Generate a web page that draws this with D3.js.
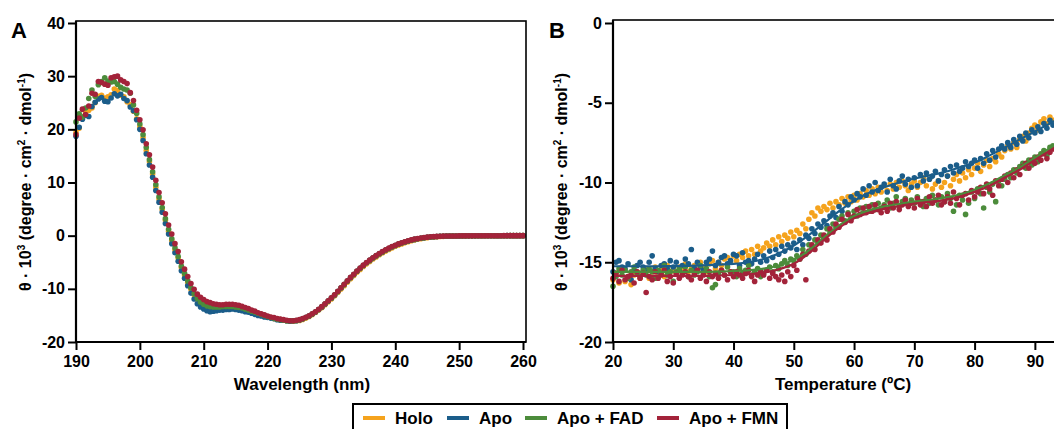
<!DOCTYPE html>
<html>
<head>
<meta charset="utf-8">
<script src="https://cdn.jsdelivr.net/npm/d3@7"></script>
<style>
  body { margin: 0; background: #fff; }
  svg { display: block; font-family: "Liberation Sans", Arial, sans-serif; font-weight: bold; }
</style>
</head>
<body>
<div id="chart"></div>
<script>
// Series
const seriesNames = ["Holo", "Apo", "Apo + FAD", "Apo + FMN"];
const seriesColors = ["#f5a31d", "#1b5d8a", "#4c8c3b", "#a3233a"];

// Panel A: CD spectra, sampled every 0.5 nm from 190 to 260 nm
const wavelengthStart = 190, wavelengthStep = 0.5;
const holoCD = [
  19.4, 20.2, 22.3, 23.1, 23.6, 24.0, 25.0, 26.2, 26.4, 25.9,
  26.1, 26.5, 27.6, 27.3, 26.4, 26.1, 25.2, 24.6, 23.4, 22.0,
  20.5, 18.4, 16.0, 13.9, 11.6, 9.1, 6.9, 4.9, 2.9, 0.8,
  -0.9, -2.7, -4.2, -6.0, -7.4, -8.8, -10.1, -11.1, -12.0, -12.6,
  -13.0, -13.3, -13.5, -13.6, -13.6, -13.5, -13.5, -13.4, -13.4, -13.4,
  -13.5, -13.6, -13.7, -13.9, -14.1, -14.3, -14.5, -14.7, -14.9, -15.1,
  -15.3, -15.4, -15.6, -15.7, -15.8, -15.9, -16.0, -16.1, -16.1, -16.0,
  -15.95, -15.75, -15.5, -15.2, -14.85, -14.45, -14.0, -13.55, -13.0, -12.45,
  -11.9, -11.3, -10.7, -10.05, -9.4, -8.75, -8.1, -7.5, -6.9, -6.35,
  -5.8, -5.3, -4.85, -4.4, -4.0, -3.6, -3.25, -2.9, -2.6, -2.3,
  -2.0, -1.75, -1.55, -1.35, -1.15, -0.95, -0.8, -0.68, -0.56, -0.46,
  -0.38, -0.3, -0.25, -0.2, -0.16, -0.13, -0.11, -0.09, -0.08, -0.07,
  -0.06, -0.05, -0.05, -0.04, -0.04, -0.03, -0.03, -0.03, -0.02, -0.02,
  -0.02, -0.02, -0.01, -0.01, -0.01, -0.01, 0, 0, 0, 0,
  0
];
const apoCD = [
  18.7, 20.4, 21.9, 22.6, 22.4, 24.3, 25.1, 25.7, 26.0, 25.3,
  25.2, 25.9, 26.7, 26.3, 26.6, 25.8, 25.4, 24.2, 23.5, 21.8,
  20.0, 17.9, 15.4, 13.3, 11.0, 8.5, 6.3, 4.4, 2.3, 0.3,
  -1.5, -3.2, -4.8, -6.6, -8.0, -9.4, -10.8, -11.9, -12.8, -13.4,
  -13.8, -14.1, -14.3, -14.2, -14.1, -14.0, -14.0, -13.9, -13.9, -13.8,
  -13.9, -14.0, -14.1, -14.3, -14.4, -14.6, -14.8, -15.0, -15.1, -15.3,
  -15.4, -15.5, -15.6, -15.8, -15.9, -15.9, -16.0, -16.1, -16.0, -16.0,
  -15.85, -15.65, -15.4, -15.1, -14.75, -14.35, -13.9, -13.4, -12.85, -12.3,
  -11.75, -11.15, -10.5, -9.85, -9.2, -8.55, -7.9, -7.3, -6.7, -6.15,
  -5.6, -5.1, -4.65, -4.2, -3.8, -3.4, -3.05, -2.7, -2.4, -2.1,
  -1.85, -1.6, -1.4, -1.2, -1.0, -0.85, -0.7, -0.58, -0.48, -0.38,
  -0.3, -0.24, -0.19, -0.15, -0.12, -0.1, -0.08, -0.07, -0.06, -0.05,
  -0.05, -0.04, -0.04, -0.03, -0.03, -0.03, -0.02, -0.02, -0.02, -0.02,
  -0.01, -0.01, -0.01, -0.01, -0.01, 0, 0, 0, 0, 0,
  0
];
const fadCD = [
  21.4, 22.9, 22.3, 24.0, 25.8, 27.4, 26.2, 28.4, 29.0, 29.7,
  29.1, 28.9, 29.0, 28.5, 27.9, 27.6, 27.4, 26.8, 24.6, 23.0,
  21.0, 19.0, 16.6, 14.3, 12.0, 9.6, 7.3, 5.3, 3.2, 1.2,
  -0.6, -2.3, -3.9, -5.7, -7.1, -8.5, -9.8, -10.9, -11.8, -12.5,
  -12.9, -13.2, -13.3, -13.4, -13.4, -13.4, -13.3, -13.3, -13.3, -13.3,
  -13.4, -13.5, -13.6, -13.8, -14.0, -14.2, -14.4, -14.6, -14.8, -15.0,
  -15.2, -15.4, -15.5, -15.7, -15.8, -15.9, -16.0, -16.0, -16.0, -15.95,
  -15.85, -15.65, -15.4, -15.1, -14.75, -14.35, -13.9, -13.4, -12.85, -12.3,
  -11.75, -11.15, -10.5, -9.85, -9.2, -8.55, -7.9, -7.3, -6.7, -6.15,
  -5.6, -5.1, -4.65, -4.2, -3.8, -3.4, -3.05, -2.7, -2.4, -2.1,
  -1.85, -1.6, -1.4, -1.2, -1.0, -0.85, -0.7, -0.58, -0.48, -0.38,
  -0.3, -0.24, -0.19, -0.15, -0.12, -0.1, -0.08, -0.07, -0.06, -0.05,
  -0.05, -0.04, -0.04, -0.03, -0.03, -0.03, -0.02, -0.02, -0.02, -0.02,
  -0.01, -0.01, -0.01, -0.01, -0.01, 0, 0, 0, 0, 0,
  0
];
const fmnCD = [
  19.0, 22.1, 23.8, 22.8, 24.4, 26.8, 26.6, 29.0, 28.8, 28.5,
  28.3, 29.7, 29.9, 30.0, 29.3, 29.0, 28.6, 26.9, 25.4, 23.6,
  21.8, 19.9, 17.3, 15.2, 12.9, 10.4, 8.1, 6.2, 4.1, 2.0,
  0.3, -1.5, -3.0, -4.9, -6.3, -7.7, -9.0, -10.1, -11.0, -11.6,
  -12.0, -12.4, -12.6, -12.8, -12.9, -13.0, -13.0, -12.9, -12.9, -12.9,
  -13.0, -13.1, -13.3, -13.5, -13.7, -14.0, -14.2, -14.5, -14.7, -14.9,
  -15.1, -15.3, -15.4, -15.6, -15.7, -15.8, -15.9, -16.0, -16.0, -15.9,
  -15.8, -15.6, -15.35, -15.05, -14.7, -14.3, -13.85, -13.35, -12.8, -12.25,
  -11.7, -11.1, -10.45, -9.8, -9.15, -8.5, -7.85, -7.25, -6.65, -6.1,
  -5.55, -5.05, -4.6, -4.15, -3.75, -3.35, -3.0, -2.65, -2.35, -2.05,
  -1.8, -1.55, -1.35, -1.15, -0.95, -0.8, -0.65, -0.55, -0.45, -0.35,
  -0.28, -0.22, -0.18, -0.14, -0.1, -0.08, -0.07, -0.06, -0.05, -0.05,
  -0.04, -0.04, -0.03, -0.03, -0.03, -0.02, -0.02, -0.02, -0.02, -0.01,
  -0.01, -0.01, -0.01, -0.01, 0, 0, 0, 0, 0, 0,
  0
];

// Panel B: thermal melts, sampled every 0.5 ºC from 20 ºC
const tempStart = 20, tempStep = 0.5;
const holoMelt = [
  -16.1, -15.7, -16.3, -15.5, -16.2, -15.9, -16.4, -15.8, -15.6, -16.0,
  -15.7, -15.4, -16.0, -15.6, -15.3, -15.8, -15.5, -15.9, -15.2, -15.6,
  -15.4, -15.7, -15.3, -15.5, -15.1, -15.6, -15.4, -15.2, -15.5, -15.0,
  -15.3, -15.6, -15.1, -14.9, -15.4, -15.0, -15.2, -14.8, -14.7, -15.0,
  -14.6, -14.9, -14.5, -14.7, -14.3, -14.6, -14.2, -14.5, -14.0, -14.3,
  -14.1, -13.8, -14.0, -13.6, -13.9, -13.4, -13.7, -13.3, -13.5, -13.1,
  -13.4, -13.0, -13.2, -12.6, -12.9, -12.3, -11.9, -12.1, -11.6, -11.8,
  -11.5, -11.7, -11.3, -11.6, -11.2, -11.4, -11.0, -11.3, -10.9, -11.2,
  -10.8, -11.1, -10.7, -10.9, -10.5, -10.8, -10.4, -10.7, -10.3, -10.6,
  -10.2, -10.5, -10.1, -10.4, -10.0, -10.3, -9.9, -10.2, -10.5, -10.1,
  -9.9, -10.3, -10.0, -9.7, -10.2, -9.8, -10.4, -10.1, -9.9, -10.3,
  -10.0, -9.6, -10.2, -9.8, -9.5, -9.9, -9.4, -9.7, -9.2, -9.5,
  -9.1, -8.8, -9.3, -8.9, -8.6, -9.0, -8.5, -8.7, -8.2, -8.4,
  -8.0, -7.7, -7.9, -7.5, -7.8, -7.3, -7.1, -7.4, -6.9, -6.6,
  -6.4, -6.7, -6.2, -6.0, -6.3, -5.9, -6.1
];
const apoMelt = [
  -15.6, -15.0, -14.9, -15.3, -15.4, -15.1, -16.1, -15.5, -15.2, -15.0,
  -15.3, -15.5, -15.0, -14.6, -15.4, -15.6, -15.2, -15.1, -15.4, -14.9,
  -15.3, -15.0, -15.5, -15.2, -14.8, -15.1, -14.2, -15.4, -15.0, -15.3,
  -15.5, -15.0, -14.8, -14.3, -15.2, -15.0, -14.7, -14.6, -15.1, -14.9,
  -14.5, -14.6, -15.2, -14.4, -15.0, -14.9, -15.1, -14.8, -14.5, -15.0,
  -14.6, -14.9, -14.3, -14.7, -14.2, -14.5, -14.0, -14.3, -13.9, -14.1,
  -13.8, -14.2, -13.6, -13.9, -13.3, -13.5, -12.9, -13.2, -12.6, -12.8,
  -12.4, -12.7, -12.1, -11.9, -12.2, -11.5, -11.8, -11.2, -11.4, -10.9,
  -11.1, -10.7, -10.9, -10.4, -10.8, -10.2, -10.6, -10.0, -10.5, -10.3,
  -10.1, -10.6, -9.8, -10.2, -10.4, -9.9, -9.6, -10.1, -9.8, -10.3,
  -9.7, -10.2, -9.5, -9.9, -9.4, -9.8, -9.6, -9.3, -9.9, -9.5,
  -9.2, -9.6, -9.0, -9.4, -8.9, -9.3, -9.1, -8.7, -9.0, -8.8,
  -8.6, -9.1, -8.5, -8.8, -8.2, -8.6, -8.0, -8.4, -7.9, -7.7,
  -7.9, -7.5, -7.8, -7.3, -7.6, -7.1, -7.4, -6.9, -7.2, -6.7,
  -6.9, -6.5, -6.8, -6.3, -6.6, -6.1, -6.4
];
const fadMelt = [
  -16.5, -15.9, -15.4, -15.8, -15.5, -16.0, -15.6, -15.3, -15.7, -15.9,
  -15.5, -15.8, -15.4, -15.6, -16.0, -15.5, -15.7, -15.2, -15.8, -15.6,
  -16.2, -15.6, -15.4, -15.7, -15.3, -15.9, -15.5, -15.8, -15.6, -15.2,
  -15.7, -15.4, -15.9, -16.6, -16.4, -15.7, -15.5, -15.8, -15.3, -15.6,
  -15.6, -15.9, -15.4, -15.7, -15.5, -15.2, -15.8, -15.6, -15.4, -15.9,
  -15.7, -15.5, -15.3, -15.6, -15.2, -15.4, -15.1, -14.9, -15.2, -14.8,
  -14.9, -14.6, -14.8, -14.2, -14.5, -13.9, -14.1, -13.6, -13.8, -13.3,
  -13.5, -12.9, -13.1, -12.6, -12.8, -12.3, -12.1, -12.4, -11.9, -12.2,
  -11.8, -12.1, -11.6, -11.9, -11.5, -11.8, -11.4, -11.7, -11.3, -11.6,
  -11.4, -11.1, -11.6, -11.3, -10.9, -11.5, -11.2, -11.0, -11.4, -11.1,
  -11.3, -10.9, -11.2, -11.5, -11.0, -11.3, -10.8, -11.1, -11.4, -10.9,
  -11.2, -10.7, -11.0, -11.8, -11.4, -10.8, -11.1, -12.0, -11.3, -10.6,
  -11.0, -10.4, -10.7, -11.6, -10.3, -10.6, -10.1, -11.2, -9.9, -10.2,
  -9.8, -9.5, -9.7, -9.2, -9.4, -9.0, -8.8, -9.1, -8.6, -8.9,
  -8.4, -8.7, -8.2, -8.0, -8.3, -7.8, -7.7
];
const fmnMelt = [
  -16.0, -15.7, -16.2, -15.5, -16.1, -15.9, -15.8, -16.3, -15.6, -16.0,
  -15.7, -16.9, -15.9, -16.1, -15.6, -16.0, -15.8, -15.5, -16.2, -15.9,
  -16.3, -15.7, -16.0, -15.8, -15.6, -15.9, -16.1, -15.7, -15.5, -16.0,
  -15.8, -16.2, -15.6, -15.9, -15.7, -16.0, -15.5, -15.8, -16.1, -15.6,
  -15.9, -15.6, -15.8, -16.0, -15.7, -15.5, -15.9, -16.2, -15.8, -15.6,
  -15.8, -15.5, -16.0, -15.7, -15.9, -16.1, -15.8, -16.2, -15.6, -15.9,
  -15.2, -15.5, -14.8, -14.5, -16.1, -14.3, -13.9, -14.2, -13.6, -13.8,
  -13.3, -13.6, -12.9, -13.1, -12.6, -12.8, -12.3, -12.5, -12.0, -12.4,
  -12.1, -11.7, -12.0, -11.6, -11.9, -11.5, -11.8, -11.4, -11.7, -11.9,
  -11.5, -11.8, -11.3, -11.6, -11.2, -11.7, -11.4, -11.1, -11.5, -11.3,
  -11.6, -11.0, -11.4, -11.2, -11.5, -10.9, -11.3, -11.1, -10.8, -11.4,
  -11.2, -10.9, -11.3, -10.6, -11.0, -11.4, -10.8, -10.7, -11.1, -10.5,
  -10.9, -10.6, -10.3, -10.7, -10.1, -10.4, -10.8, -9.9, -10.2, -9.8,
  -9.6, -10.0, -9.4, -9.7, -9.2, -9.5, -9.0, -8.8, -9.1, -8.6,
  -8.8, -8.4, -8.6, -8.2, -8.5, -8.1, -7.9
];

// Fitted melting curves (no fit shown for Holo)
const fitTemps = [20, 22.5, 25, 27.5, 30, 32.5, 35, 37.5, 40, 42.5, 45, 47.5, 50, 52.5, 55, 57.5,
  60, 62.5, 65, 67.5, 70, 72.5, 75, 77.5, 80, 82.5, 85, 87.5, 90, 92.5, 95];
const apoFit = [-15.25, -15.25, -15.25, -15.25, -15.24, -15.23, -15.2, -15.15, -15.1, -15.0, -14.8,
  -14.45, -13.95, -13.3, -12.55, -11.8, -11.15, -10.65, -10.3, -10.0, -9.75, -9.55, -9.35, -9.05,
  -8.75, -8.3, -7.8, -7.3, -6.8, -6.3, -5.8];
const fadFit = [-15.6, -15.6, -15.6, -15.6, -15.6, -15.6, -15.6, -15.58, -15.55, -15.5, -15.4,
  -15.2, -14.85, -14.25, -13.45, -12.7, -12.1, -11.75, -11.5, -11.35, -11.2, -11.1, -10.95, -10.75,
  -10.45, -10.05, -9.55, -9.05, -8.45, -7.85, -7.25];
const fmnFit = [-15.85, -15.85, -15.85, -15.85, -15.85, -15.85, -15.85, -15.83, -15.8, -15.75, -15.65,
  -15.45, -15.1, -14.45, -13.6, -12.85, -12.25, -11.9, -11.65, -11.48, -11.33, -11.22, -11.1, -10.9,
  -10.6, -10.2, -9.7, -9.2, -8.6, -8.0, -7.4];

// Ticks
const ticksA_x = [190, 200, 210, 220, 230, 240, 250, 260];
const ticksA_y = [-20, -10, 0, 10, 20, 30, 40];
const ticksB_x = [20, 30, 40, 50, 60, 70, 80, 90];
const ticksB_y = [-20, -15, -10, -5, 0];

const width = 1054, height = 429;
const svg = d3.select("#chart").append("svg")
  .attr("width", width)
  .attr("height", height);

const cdSeries = [holoCD, apoCD, fadCD, fmnCD];
const meltSeries = [holoMelt, apoMelt, fadMelt, fmnMelt];
const fitSeries = [null, apoFit, fadFit, fmnFit];

function drawFrame(x, y, frameRight, frameTop, xTicks, yTicks) {
  const [x0] = x.range();
  const [y0] = y.range();
  svg.append("rect")
    .attr("x", x0).attr("y", frameTop)
    .attr("width", frameRight - x0).attr("height", y0 - frameTop)
    .attr("fill", "none").attr("stroke", "#000").attr("stroke-width", 1.6);

  const xAxis = svg.append("g")
    .attr("transform", `translate(0,${y0})`)
    .call(d3.axisBottom(x).tickValues(xTicks).tickSize(8).tickSizeOuter(0).tickPadding(6).tickFormat(d => String(d)));
  const yAxis = svg.append("g")
    .attr("transform", `translate(${x0},0)`)
    .call(d3.axisLeft(y).tickValues(yTicks).tickSize(8).tickSizeOuter(0).tickPadding(3).tickFormat(d => String(d)));

  [xAxis, yAxis].forEach(g => {
    g.select(".domain").remove();
    g.selectAll("line").attr("stroke", "#000").attr("stroke-width", 2);
    g.selectAll("text")
      .attr("fill", "#000")
      .style("font-size", "16px")
      .style("font-weight", "bold")
      .style("font-family", "'Liberation Sans', Arial, sans-serif");
  });
  // axis lines, a bit heavier than the frame
  svg.append("line").attr("x1", x0).attr("x2", frameRight).attr("y1", y0).attr("y2", y0)
    .attr("stroke", "#000").attr("stroke-width", 2.2);
  svg.append("line").attr("x1", x0).attr("x2", x0).attr("y1", frameTop).attr("y2", y0)
    .attr("stroke", "#000").attr("stroke-width", 2.2);
}

function addYTitle(x, y) {
  const t = svg.append("text")
    .attr("transform", `translate(${x},${y}) rotate(-90)`)
    .attr("text-anchor", "middle")
    .style("font-size", "16px");
  t.append("tspan").text("θ · 10");
  t.append("tspan").attr("dy", -6).style("font-size", "10px").text("3");
  t.append("tspan").attr("dy", 6).text(" (degree · cm");
  t.append("tspan").attr("dy", -6).style("font-size", "10px").text("2");
  t.append("tspan").attr("dy", 6).text(" · dmol");
  t.append("tspan").attr("dy", -6).style("font-size", "10px").text("-1");
  t.append("tspan").attr("dy", 6).text(")");
}

// ---- Panel A
const xA = d3.scaleLinear().domain([190, 260]).range([76, 523]);
const yA = d3.scaleLinear().domain([-20, 40]).range([342, 23]);

cdSeries.forEach((vals, si) => {
  svg.append("g").selectAll("circle")
    .data(vals)
    .join("circle")
    .attr("cx", (d, i) => xA(wavelengthStart + i * wavelengthStep))
    .attr("cy", d => yA(d))
    .attr("r", 2.8)
    .attr("fill", seriesColors[si]);
});

drawFrame(xA, yA, 526, 21, ticksA_x, ticksA_y);

svg.append("text").attr("x", 302).attr("y", 390).attr("text-anchor", "middle")
  .style("font-size", "17px").text("Wavelength (nm)");
addYTitle(31, 182);
svg.append("text").attr("x", 11).attr("y", 38).style("font-size", "22px").text("A");

// ---- Panel B
const xB = d3.scaleLinear().domain([20, 95]).range([613, 1065]);
const yB = d3.scaleLinear().domain([-20, 0]).range([342, 23]);

meltSeries.forEach((vals, si) => {
  svg.append("g").selectAll("circle")
    .data(vals)
    .join("circle")
    .attr("cx", (d, i) => xB(tempStart + i * tempStep))
    .attr("cy", d => yB(d))
    .attr("r", 2.8)
    .attr("fill", seriesColors[si]);
});

const fitLine = d3.line()
  .curve(d3.curveMonotoneX)
  .x((d, i) => xB(fitTemps[i]))
  .y(d => yB(d));

fitSeries.forEach((vals, si) => {
  if (!vals) return;
  svg.append("path")
    .attr("d", fitLine(vals))
    .attr("fill", "none")
    .attr("stroke", seriesColors[si])
    .attr("stroke-width", 2.2);
});

drawFrame(xB, yB, 1068, 20, ticksB_x, ticksB_y);

svg.append("text").attr("x", 843).attr("y", 390).attr("text-anchor", "middle")
  .style("font-size", "17px").text("Temperature (ºC)");
addYTitle(567, 182);
svg.append("text").attr("x", 549).attr("y", 38).style("font-size", "22px").text("B");

// ---- Legend
const legend = svg.append("g");
legend.append("rect")
  .attr("x", 353).attr("y", 404)
  .attr("width", 434).attr("height", 34)
  .attr("fill", "#fff").attr("stroke", "#000").attr("stroke-width", 2);

const legendX = [363, 447, 525, 657];
seriesNames.forEach((name, i) => {
  legend.append("rect")
    .attr("x", legendX[i]).attr("y", 416)
    .attr("width", 22).attr("height", 4)
    .attr("fill", seriesColors[i]);
  legend.append("text")
    .attr("x", legendX[i] + 32).attr("y", 424)
    .style("font-size", "17px")
    .text(name);
});
</script>
</body>
</html>
